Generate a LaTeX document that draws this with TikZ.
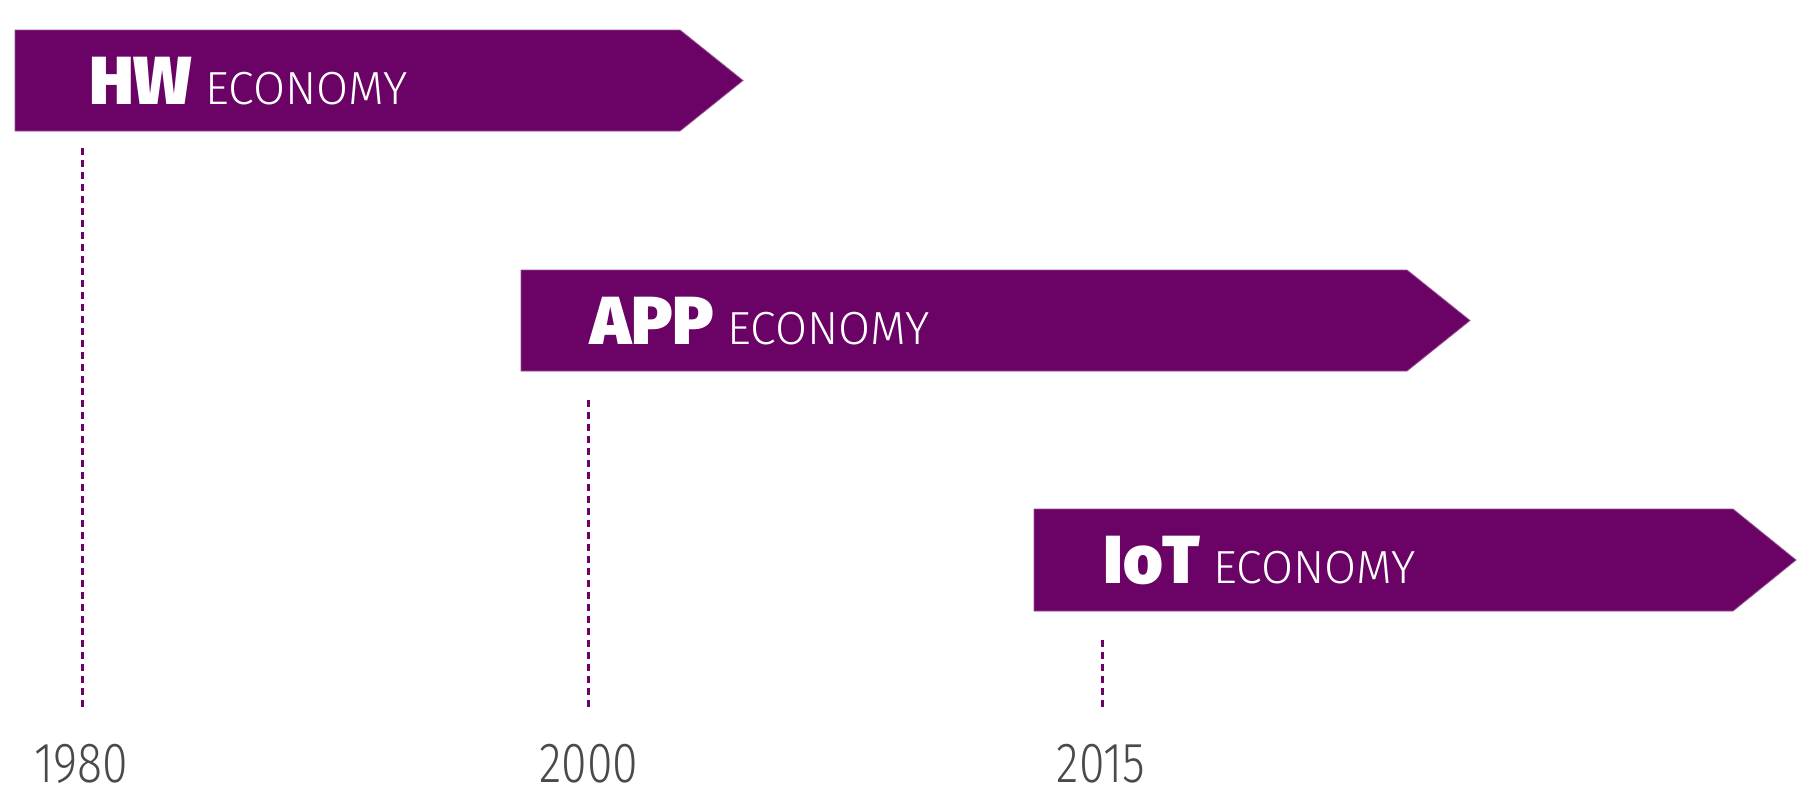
\documentclass[tikz,border=0pt]{standalone}
\usepackage{fontspec}
\setmainfont{Fira Sans}
\newfontfamily\heavyfont{Fira Sans}[UprightFont=* Black]
\newfontfamily\lightfont{Fira Sans}[UprightFont=* Light]
\newfontfamily\yearfont{Fira Sans}[UprightFont=* Light, FakeStretch=0.82]
\definecolor{eco}{RGB}{106,3,101}
\definecolor{ecoedge}{RGB}{150,80,145}
\definecolor{yeargray}{RGB}{74,74,74}
\newcommand{\bold}[1]{{\heavyfont\fontsize{68}{70}\selectfont #1}}
\newcommand{\econ}{{\lightfont\fontsize{46.4}{50}\selectfont ECONOMY}}
\begin{document}
\begin{tikzpicture}[x=1pt,y=-1pt,
  banner/.style={fill=eco, draw=ecoedge, line width=0.8pt},
  tick/.style={draw=eco, line width=3pt, dash pattern=on 7pt off 5pt},
  lbl/.style={anchor=base west, inner sep=0pt, text=white},
  yearlbl/.style={anchor=base, inner sep=0pt, text=yeargray,
    font=\yearfont\fontsize{56.6}{60}\selectfont}]
\useasboundingbox (0,0) rectangle (1811,809);

% era banners (arrow-shaped bars)
\path[banner] (15,30) -- (680,30) -- (743,80.5) -- (680,131) -- (15,131) -- cycle;
\path[banner] (521,270) -- (1407,270) -- (1470,320.5) -- (1407,371) -- (521,371) -- cycle;
\path[banner] (1034,509) -- (1733,509) -- (1796,560) -- (1733,611) -- (1034,611) -- cycle;

% banner titles
\node[lbl] (hw)  at (89,104)   {\bold{HW}\hspace{13pt}\econ};
\node[lbl] (app) at (590,344)  {\bold{APP}\hspace{13pt}\econ};
\node[lbl] (iot) at (1103,583) {\bold{IoT}\hspace{13pt}\econ};

% years on the time axis
\node[yearlbl] (y1980) at (81,782)   {1980};
\node[yearlbl] (y2000) at (589,782)  {2000};
\node[yearlbl] (y2015) at (1101,782) {2015};

% drop lines from each banner to its year
\coordinate (hwtop)   at (82,148);
\coordinate (hwfoot)  at (82,707);
\coordinate (apptop)  at (588,400);
\coordinate (appfoot) at (588,707);
\coordinate (iottop)  at (1102,640);
\coordinate (iotfoot) at (1102,707);
\draw[tick] (hwtop) -- (hwfoot);
\draw[tick] (apptop) -- (appfoot);
\draw[tick] (iottop) -- (iotfoot);
\end{tikzpicture}
\end{document}
